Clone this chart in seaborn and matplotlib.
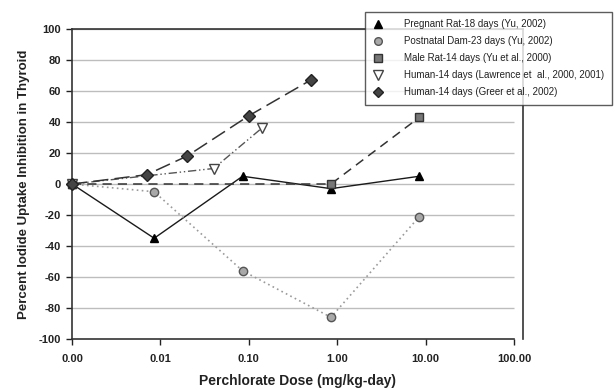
import matplotlib
matplotlib.use("Agg")
import matplotlib.pyplot as plt
import seaborn as sns
import pandas as pd
from matplotlib.lines import Line2D
from matplotlib.ticker import FixedLocator, FixedFormatter, NullLocator

# ---- data ----
preg_dose = [0.001, 0.0085, 0.085, 0.85, 8.5]
preg_val = [0, -35, 5, -3, 5]

post_dose = [0.001, 0.0085, 0.085, 0.85, 8.5]
post_val = [0, -5, -56, -86, -21]

male_dose = [0.001, 0.85, 8.5]
male_val = [0, 0, 43]

law_dose = [0.001, 0.04, 0.14]
law_val = [0, 10, 36]

greer_dose = [0.001, 0.007, 0.02, 0.1, 0.5]
greer_val = [0, 6, 18, 44, 67]

labels = ["Pregnant Rat-18 days (Yu, 2002)",
          "Postnatal Dam-23 days (Yu, 2002)",
          "Male Rat-14 days (Yu et al., 2000)",
          "Human-14 days (Lawrence et  al., 2000, 2001)",
          "Human-14 days (Greer et al., 2002)"]

x_ticks = [0.001, 0.01, 0.1, 1, 10, 100]
x_ticklabels = ["0.00", "0.01", "0.10", "1.00", "10.00", "100.00"]
y_ticks = [-100, -80, -60, -40, -20, 0, 20, 40, 60, 80, 100]

sns.set_theme(style="white")
plt.rcParams['font.family'] = ['Liberation Sans', 'DejaVu Sans']
plt.rcParams['axes.unicode_minus'] = False

fig = plt.figure(figsize=(6.16, 3.9), dpi=100)
ax = fig.add_axes([72/616, 51/390, (523-72)/616, (339-29)/390])
ax.set_xscale("log")
ax.set_xlim(0.001, 100 * 10 ** (9 / 88.4))
ax.set_ylim(-100, 100)

# gridlines
ax.hlines([v for v in y_ticks if v != -100], 0.001, 100, color="#bdbdbd", lw=1.0, zorder=0)

styles = [
    dict(d=preg_dose, v=preg_val, color="#1a1a1a", ls="-", lw=1.0, marker="^", mfc="#000000", mec="#000000", ms=6),
    dict(d=post_dose, v=post_val, color="#9a9a9a", ls=(0, (1, 2)), lw=1.2, marker="o", mfc="#a8a8a8", mec="#555555", ms=6),
    dict(d=male_dose, v=male_val, color="#333333", ls=(0, (6, 4)), lw=1.1, marker="s", mfc="#777777", mec="#333333", ms=6),
    dict(d=law_dose, v=law_val, color="#555555", ls=(0, (6, 2, 1, 2, 1, 2)), lw=1.0, marker="v", mfc="#ffffff", mec="#444444", ms=7),
    dict(d=greer_dose, v=greer_val, color="#333333", ls=(0, (10, 4)), lw=1.1, marker="D", mfc="#444444", mec="#222222", ms=6),
]

handles = []
for st, lab in zip(styles, labels):
    df = pd.DataFrame({"dose": st["d"], "val": st["v"]})
    sns.lineplot(data=df, x="dose", y="val", ax=ax, color=st["color"], linestyle=st["ls"],
                 lw=st["lw"], marker=st["marker"], markerfacecolor=st["mfc"],
                 markeredgecolor=st["mec"], markersize=st["ms"], markeredgewidth=1.0,
                 clip_on=False, zorder=3, errorbar=None)
    handles.append(Line2D([], [], ls="none", marker=st["marker"], markerfacecolor=st["mfc"],
                          markeredgecolor=st["mec"], markersize=st["ms"] - 0.5, markeredgewidth=1.0))

ax.xaxis.set_major_locator(FixedLocator(x_ticks))
ax.xaxis.set_major_formatter(FixedFormatter(x_ticklabels))
ax.xaxis.set_minor_locator(NullLocator())
ax.set_yticks(y_ticks)

ax.tick_params(axis="both", which="major", direction="out", length=4, width=1,
               labelsize=8, colors="#222222", labelcolor="#222222", bottom=True, left=True)
ax.tick_params(axis="x", pad=7)
ax.tick_params(axis="y", pad=4)
for t in ax.get_xticklabels() + ax.get_yticklabels():
    t.set_fontweight("bold")

for s in ["left", "bottom", "top", "right"]:
    ax.spines[s].set_color("#333333")
    ax.spines[s].set_linewidth(1.2)
ax.spines["bottom"].set_bounds(0.001, 100)

ax.set_xlabel("Perchlorate Dose (mg/kg-day)", fontsize=10, fontweight="bold", color="#222222", labelpad=7)
ax.set_ylabel("Percent Iodide Uptake Inhibition in Thyroid", fontsize=9.5, fontweight="bold", color="#222222", labelpad=6)

leg = fig.legend(handles, labels, loc="upper left", bbox_to_anchor=(365/616, 1 - 12/390),
                 frameon=True, fancybox=False, fontsize=7, handlelength=1.2, handletextpad=2.1,
                 labelspacing=0.72, borderpad=0.75, borderaxespad=0)
leg.get_frame().set_edgecolor("#333333")
leg.get_frame().set_linewidth(1.0)
for t in leg.get_texts():
    t.set_color("#222222")

fig.savefig("out.png", dpi=100)
